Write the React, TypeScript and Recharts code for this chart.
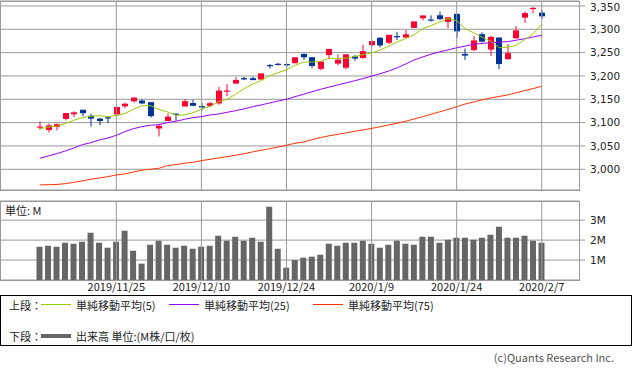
import { ComposedChart, Bar, Line, XAxis, YAxis, CartesianGrid, ReferenceLine } from 'recharts'

const FONT = '"Noto Sans CJK JP", "DejaVu Sans", sans-serif'
const NUM_FONT = '"DejaVu Sans", sans-serif'

const dates = [
  '2019/11/12', '2019/11/13', '2019/11/14', '2019/11/15', '2019/11/18', '2019/11/19', '2019/11/20', '2019/11/21', '2019/11/22', '2019/11/25',
  '2019/11/26', '2019/11/27', '2019/11/29', '2019/12/2', '2019/12/3', '2019/12/4', '2019/12/5', '2019/12/6', '2019/12/9', '2019/12/10',
  '2019/12/11', '2019/12/12', '2019/12/13', '2019/12/16', '2019/12/17', '2019/12/18', '2019/12/19', '2019/12/20', '2019/12/23', '2019/12/24',
  '2019/12/26', '2019/12/27', '2019/12/30', '2019/12/31', '2020/1/2', '2020/1/3', '2020/1/6', '2020/1/7', '2020/1/8', '2020/1/9',
  '2020/1/10', '2020/1/13', '2020/1/14', '2020/1/15', '2020/1/16', '2020/1/17', '2020/1/21', '2020/1/22', '2020/1/23', '2020/1/24',
  '2020/1/27', '2020/1/28', '2020/1/29', '2020/1/30', '2020/1/31', '2020/2/3', '2020/2/4', '2020/2/5', '2020/2/6', '2020/2/7',
]

const tickLabels = ['2019/11/25', '2019/12/10', '2019/12/24', '2020/1/9', '2020/1/24', '2020/2/7']

const opens = [
  3089.3, 3084.2, 3090.8, 3107.9, 3117.9, 3127.5, 3114.7, 3108.5, 3111.4, 3117.4,
  3134.9, 3145.5, 3147.2, 3143.9, 3087.4, 3103.5, 3119.2, 3134.6, 3141.9, 3135.4,
  3135.8, 3141.2, 3166.7, 3183.6, 3195.4, 3195.2, 3192.3, 3223.3, 3226.1, 3225.5,
  3227.2, 3247.2, 3240.1, 3215.2, 3244.7, 3226.4, 3217.6, 3241.9, 3238.6, 3266.0,
  3281.8, 3271.1, 3285.4, 3282.3, 3303.0, 3323.7, 3321.0, 3330.0, 3315.8, 3333.1,
  3247.2, 3255.4, 3289.5, 3256.5, 3282.3, 3235.7, 3280.6, 3324.9, 3344.9, 3335.5,
]
const highs = [
  3102.6, 3098.1, 3098.2, 3120.5, 3124.2, 3127.6, 3119.0, 3110.1, 3112.9, 3133.8,
  3142.7, 3154.3, 3150.3, 3144.3, 3095.0, 3119.4, 3119.5, 3150.6, 3148.9, 3142.1,
  3144.0, 3176.3, 3182.7, 3197.7, 3198.2, 3198.5, 3205.5, 3225.7, 3227.8, 3226.4,
  3240.1, 3247.9, 3240.9, 3231.7, 3258.1, 3246.2, 3246.8, 3244.9, 3267.1, 3275.6,
  3283.0, 3288.1, 3294.3, 3298.7, 3317.1, 3329.9, 3329.8, 3337.8, 3326.9, 3333.2,
  3258.9, 3285.8, 3293.5, 3285.9, 3282.3, 3268.4, 3306.9, 3337.6, 3348.0, 3341.4,
]
const lows = [
  3084.7, 3078.8, 3083.3, 3104.6, 3112.1, 3113.5, 3091.4, 3094.6, 3099.3, 3117.4,
  3131.0, 3143.4, 3139.3, 3110.8, 3070.3, 3102.5, 3103.8, 3134.6, 3135.5, 3126.1,
  3133.2, 3138.5, 3156.5, 3183.6, 3191.0, 3191.1, 3192.3, 3216.0, 3222.3, 3220.5,
  3227.2, 3234.4, 3216.6, 3212.0, 3235.5, 3222.3, 3214.6, 3232.4, 3236.7, 3263.7,
  3260.9, 3268.4, 3277.2, 3280.7, 3302.8, 3318.9, 3316.6, 3320.0, 3301.9, 3281.5,
  3234.5, 3253.2, 3271.9, 3242.8, 3214.7, 3235.7, 3280.6, 3313.8, 3334.4, 3322.1,
]
const closes = [
  3091.8, 3094.0, 3096.6, 3120.5, 3122.0, 3120.2, 3108.5, 3103.5, 3110.3, 3133.6,
  3140.5, 3153.6, 3141.0, 3113.9, 3093.2, 3112.8, 3117.4, 3145.9, 3136.0, 3132.5,
  3141.6, 3168.6, 3168.8, 3191.5, 3192.5, 3191.1, 3205.4, 3221.2, 3224.0, 3223.4,
  3239.9, 3240.0, 3221.3, 3230.8, 3257.9, 3234.9, 3246.3, 3237.2, 3253.1, 3274.7,
  3265.4, 3288.1, 3283.2, 3289.3, 3316.8, 3329.6, 3320.8, 3321.8, 3325.5, 3295.5,
  3243.6, 3276.2, 3273.4, 3283.7, 3225.5, 3248.9, 3297.6, 3334.7, 3345.8, 3327.7,
]

const ma5 = [
  3086.8, 3090.2, 3092.5, 3098.0, 3105.0, 3110.7, 3113.6, 3114.9, 3112.9, 3115.2,
  3119.3, 3128.3, 3135.8, 3136.5, 3128.4, 3122.9, 3115.6, 3116.6, 3121.1, 3128.9,
  3134.7, 3144.9, 3149.5, 3160.6, 3172.6, 3182.5, 3189.9, 3200.3, 3206.9, 3213.0,
  3222.8, 3229.7, 3229.7, 3231.1, 3238.0, 3237.0, 3238.2, 3241.4, 3245.8, 3249.2,
  3255.3, 3263.7, 3272.9, 3280.1, 3288.5, 3301.4, 3307.9, 3315.7, 3322.9, 3318.6,
  3301.4, 3292.5, 3282.9, 3274.5, 3260.5, 3261.5, 3265.8, 3278.1, 3290.5, 3310.9,
]
const ma25 = [
  3023.6, 3028.5, 3033.4, 3039.2, 3045.6, 3052.7, 3057.0, 3062.8, 3067.0, 3072.8,
  3080.6, 3087.0, 3091.3, 3094.3, 3095.6, 3099.9, 3102.9, 3107.0, 3110.6, 3112.7,
  3116.4, 3118.5, 3122.0, 3125.6, 3129.2, 3134.1, 3137.8, 3142.0, 3146.3, 3150.0,
  3155.6, 3160.7, 3166.3, 3171.4, 3176.0, 3180.6, 3185.1, 3189.6, 3194.4, 3199.7,
  3204.8, 3210.4, 3217.3, 3225.5, 3234.4, 3240.6, 3246.6, 3251.6, 3255.9, 3260.4,
  3264.0, 3267.7, 3269.6, 3271.3, 3272.5, 3273.6, 3276.6, 3279.8, 3283.7, 3287.0,
]
const ma75 = [
  2966.4, 2967.0, 2967.4, 2969.2, 2972.1, 2974.9, 2978.6, 2981.4, 2984.2, 2987.8,
  2990.0, 2994.2, 2997.9, 3000.0, 3002.1, 3007.8, 3010.0, 3012.9, 3015.0, 3018.5,
  3021.4, 3024.2, 3027.0, 3030.0, 3033.4, 3037.1, 3040.7, 3044.1, 3047.8, 3051.4,
  3055.7, 3058.5, 3063.4, 3068.0, 3071.8, 3074.8, 3078.0, 3081.2, 3084.4, 3087.6,
  3091.2, 3094.9, 3098.6, 3102.9, 3107.8, 3112.7, 3117.9, 3123.2, 3128.4, 3134.0,
  3139.9, 3144.2, 3148.7, 3152.8, 3156.0, 3159.4, 3163.9, 3168.6, 3173.1, 3177.8,
]

// 出来高 (M)
const volumes = [
  1.67, 1.72, 1.67, 1.87, 1.82, 1.92, 2.37, 1.87, 1.62, 1.92,
  2.47, 1.47, 0.82, 1.77, 1.97, 1.77, 1.62, 1.72, 1.57, 1.67,
  1.72, 2.22, 1.97, 2.17, 1.97, 2.12, 1.92, 3.67, 1.57, 0.62,
  1.0, 1.12, 1.17, 1.27, 1.82, 1.72, 1.87, 1.87, 1.97, 1.82,
  1.62, 1.77, 1.97, 1.82, 1.77, 2.17, 2.17, 1.87, 2.02, 2.12,
  2.12, 2.02, 2.12, 2.27, 2.67, 2.12, 2.12, 2.22, 1.97, 1.87,
]

const priceTicks = [3000, 3050, 3100, 3150, 3200, 3250, 3300, 3350]
const volumeTicks = [1, 2, 3]

const UP = '#ff0033'
const DOWN = '#003399'
const GRID = '#999999'
const PAD = { left: 35.5, right: 33 }

const data = dates.map((date, i) => ({
  date,
  open: opens[i],
  high: highs[i],
  low: lows[i],
  close: closes[i],
  range: [lows[i], highs[i]],
  ma5: ma5[i],
  ma25: ma25[i],
  ma75: ma75[i],
  vol: volumes[i],
}))

const Candle = (props: any) => {
  const { x, y, width, height, payload } = props
  if (!payload) return null
  const { open, close, high, low } = payload
  const top = Math.min(y, y + height)
  const h = Math.abs(height)
  const k = high > low ? h / (high - low) : 0
  const bx = Math.round(x + width / 2 - 3)
  const yO = top + (high - open) * k
  const yC = top + (high - close) * k
  const color = close >= open ? UP : DOWN
  return (
    <g>
      <line x1={bx + 3} x2={bx + 3} y1={top} y2={top + h} stroke={color} strokeWidth={1} />
      <rect x={bx} y={Math.min(yO, yC)} width={6} height={Math.max(1.2, Math.abs(yO - yC))} fill={color} />
    </g>
  )
}

// right-hand labels; the top one (3,350) is held inside the picture
const RightTick = (props: any) => {
  const { x, y, payload, fmt } = props
  return (
    <text x={x} y={Math.max(y, 7)} dy="0.35em" textAnchor="start" fill="#222" fontSize={10.5} fontFamily={NUM_FONT}>
      {fmt(payload.value)}
    </text>
  )
}

const tickStyle = { fill: '#222', fontSize: 11, fontFamily: FONT }

const legendText: React.CSSProperties = { position: 'absolute', fontSize: 11, color: '#222', lineHeight: '14px', whiteSpace: 'nowrap' }
const swatch = (left: number, top: number, color: string, h: number): React.CSSProperties => ({
  position: 'absolute', left, top, width: 30, height: h, background: color,
})

export default function App() {
  return (
    <div style={{ position: 'relative', width: 633, height: 371, fontFamily: FONT, background: '#fff', overflow: 'hidden' }}>
      <style>{'body{margin:0}'}</style>

      {/* 上段: ローソク足 + 移動平均 */}
      <div style={{ position: 'absolute', left: 0, top: 0 }}>
        <ComposedChart width={633} height={192} data={data} margin={{ top: 1, right: 0, bottom: 2, left: 0 }} barCategoryGap={0}>
          <CartesianGrid vertical={false} stroke={GRID} />
          <XAxis dataKey="date" hide padding={PAD} />
          <YAxis
            orientation="right"
            width={54}
            domain={[2955.6, 3360.6]}
            allowDataOverflow
            ticks={priceTicks}
            interval={0}
            tick={<RightTick fmt={(v: number) => v.toLocaleString('en-US')} />}
            tickLine={{ stroke: GRID }}
            tickSize={6}
            tickMargin={5}
            axisLine={false}
          />
          {tickLabels.map(d => (
            <ReferenceLine key={d} x={d} stroke={GRID} />
          ))}
          <Line dataKey="ma75" stroke="#ff3300" strokeWidth={1} dot={false} isAnimationActive={false} />
          <Line dataKey="ma25" stroke="#9900ff" strokeWidth={1} dot={false} isAnimationActive={false} />
          <Bar dataKey="range" shape={<Candle />} isAnimationActive={false} />
          <Line dataKey="ma5" stroke="#99cc00" strokeWidth={1} dot={false} isAnimationActive={false} />
        </ComposedChart>
        <div style={{ position: 'absolute', left: 0, top: 1, width: 580, height: 190, border: `1px solid ${GRID}`, boxSizing: 'border-box', pointerEvents: 'none' }} />
      </div>

      {/* 下段: 出来高 */}
      <div style={{ position: 'absolute', left: 0, top: 195 }}>
        <ComposedChart width={633} height={105} data={data} margin={{ top: 6, right: 0, bottom: 0, left: 0 }}>
          <CartesianGrid vertical={false} stroke={GRID} />
          <XAxis
            dataKey="date"
            height={20}
            padding={PAD}
            ticks={tickLabels}
            interval={0}
            tick={tickStyle}
            tickLine={false}
            axisLine={false}
            tickSize={0}
            tickMargin={3}
          />
          <YAxis
            orientation="right"
            width={54}
            domain={[0, 3.96]}
            allowDataOverflow
            ticks={volumeTicks}
            interval={0}
            tick={<RightTick fmt={(v: number) => `${v}M`} />}
            tickLine={{ stroke: GRID }}
            tickSize={6}
            tickMargin={5}
            axisLine={false}
          />
          {tickLabels.map(d => (
            <ReferenceLine key={d} x={d} stroke={GRID} />
          ))}
          <Bar dataKey="vol" fill="#666666" barSize={6} isAnimationActive={false} />
        </ComposedChart>
        <div style={{ position: 'absolute', left: 0, top: 6, width: 580, height: 80, border: `1px solid ${GRID}`, boxSizing: 'border-box', pointerEvents: 'none' }} />
        <span style={{ ...legendText, left: 5, top: 8 }}>単位: M</span>
      </div>

      {/* 凡例 */}
      <div style={{ position: 'absolute', left: 0, top: 295, width: 632, height: 51, border: '1px solid #000', boxSizing: 'border-box' }}>
        <span style={{ ...legendText, left: 8, top: 2 }}>上段：</span>
        <div style={swatch(40, 8, '#99cc00', 1)} />
        <span style={{ ...legendText, left: 75, top: 2 }}>単純移動平均(5)</span>
        <div style={swatch(168, 8, '#9900ff', 1)} />
        <span style={{ ...legendText, left: 203, top: 2 }}>単純移動平均(25)</span>
        <div style={swatch(312, 8, '#ff3300', 1)} />
        <span style={{ ...legendText, left: 347, top: 2 }}>単純移動平均(75)</span>

        <span style={{ ...legendText, left: 8, top: 33 }}>下段：</span>
        <div style={swatch(40, 38, '#666666', 4)} />
        <span style={{ ...legendText, left: 75, top: 33 }}>出来高 単位:(M株/口/枚)</span>
      </div>

      <span style={{ ...legendText, right: 19, top: 350, color: '#555' }}>(c)Quants Research Inc.</span>
    </div>
  )
}
